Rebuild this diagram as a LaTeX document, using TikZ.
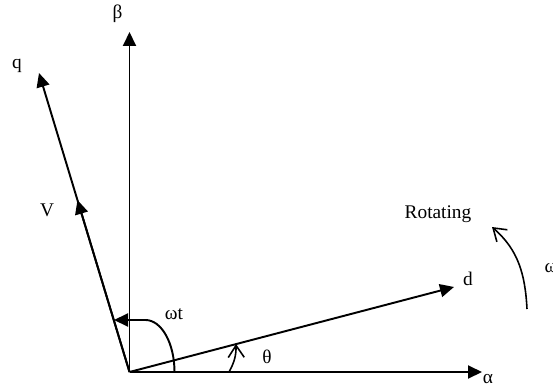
\documentclass[tikz,border=0pt]{standalone}
\usepackage{fontspec}
\setmainfont{Liberation Serif}
\usepackage{tikz}
\usetikzlibrary{
  arrows.meta,
  calc
}

\begin{document}
\begin{tikzpicture}[
  axis/.style={
    line width=1.1pt, -{Triangle[length=2.8mm, width=2.6mm]},
  },
  turn/.style={
    line width=0.9pt, -{Straight Barb[length=2.4mm, width=3.2mm]},
  },
  lbl/.style={
    font=\fontsize{11}{13}\selectfont, inner sep=0pt, anchor=base,
  },
]
\useasboundingbox (0,0) rectangle (11.06,7.76);

% origin and axis ends
\coordinate (O) at (2.59,0.32);
\coordinate (alphaend) at (9.64,0.32);
\coordinate (betaend) at (2.59,7.12);
\coordinate (qend) at (0.78,6.30);
\coordinate (dend) at (9.08,2.02);
\coordinate (Vend) at ($(O)!0.575!(qend)$);

% stationary alpha-beta frame
\draw[axis] (O) -- (alphaend);
\draw[axis] (O) -- (betaend);

% rotating d-q frame and V
\draw[axis] (O) -- (dend);
\draw[axis] (O) -- (qend);
\draw[axis] (O) -- (Vend);

% angle marks
\coordinate (wtstart) at (3.49,0.32);
\coordinate (wtend) at (2.28,1.36);
\draw[axis] (wtstart) arc[start angle=0, end angle=90, x radius=0.58, y radius=1.04] -- (wtend);
\coordinate (thstart) at (4.58,0.32);
\coordinate (thend) at (4.72,0.88);
\draw[turn] (thstart) to[bend right=15] (thend);

% rotation arrow
\coordinate (wstart) at (10.54,1.58);
\coordinate (wend) at (9.84,3.22);
\draw[turn] (wstart) to[out=93, in=-41] (wend);

% labels
\node[lbl] (alphalbl) at (9.76,0.10) {α};
\node[lbl] (betalbl) at (2.35,7.38) {β};
\node[lbl] (qlbl) at (0.34,6.40) {q};
\node[lbl] (dlbl) at (9.36,2.06) {d};
\node[lbl] (Vlbl) at (0.94,3.43) {V};
\node[lbl] (wtlbl) at (3.48,1.38) {ωt};
\node[lbl] (thetalbl) at (5.34,0.50) {θ};
\node[lbl] (rotlbl) at (8.76,3.40) {Rotating};
\node[lbl] (omegalbl) at (11.02,2.32) {ω};

\end{tikzpicture}
\end{document}
